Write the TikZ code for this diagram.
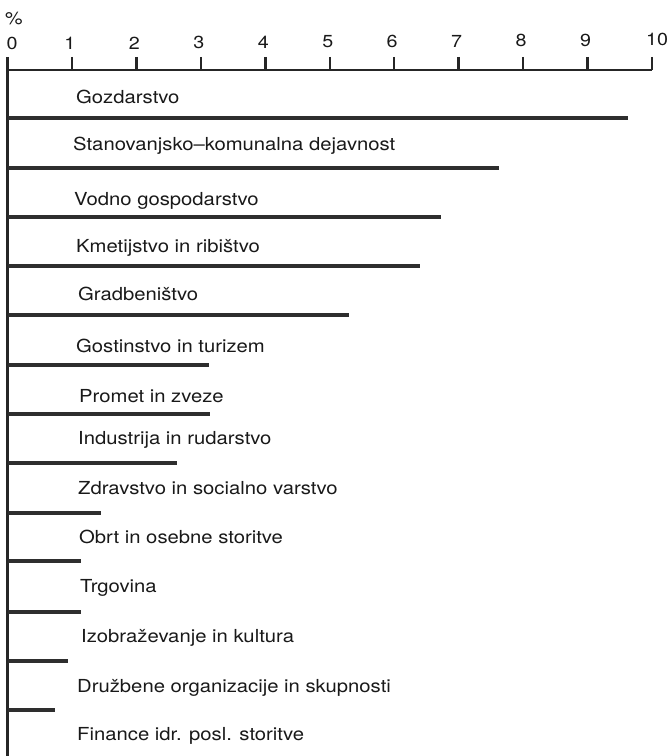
\documentclass[tikz,border=0pt]{standalone}
\usepackage{fontspec}
\setmainfont{TeX Gyre Heros}[FakeStretch=1.13]
\begin{document}
\begin{tikzpicture}[x=1bp,y=-1bp,
            axe/.style={draw=black!85, line width=2.4bp},
            barre/.style={draw=black!82, line width=3.4bp},
            lab/.style={anchor=base west, inner sep=0pt, text=black!90, font=\fontsize{18}{20}\selectfont},
            num/.style={anchor=base, inner sep=0pt, text=black!90, font=\fontsize{17.5}{20}\selectfont},
        ]
        \useasboundingbox (0,0) rectangle (672,756);
        % axes
        \draw[axe] (7.5,57) -- (7.5,756);
        \draw[axe] (7.5,70) -- (652,70);
        \foreach \i in {1,...,10}
            \draw[axe] ({7.5+64.45*\i},57) -- ({7.5+64.45*\i},70);
        \node[num] (pct) at (14,25) {\%};
        \node[num] (n0) at (12,50) {0};
        \foreach \i in {1,...,9}
            \node[num] (n\i) at ({5.5+64.45*\i},{50-0.4*\i}) {\i};
        \node[num] (n10) at (657,46) {10};
        % bars
        \foreach \v/\y in {9.63/118,7.63/168,6.73/217,6.40/266,5.30/315,3.13/365,3.14/414,
                2.63/463,1.45/513,1.14/561,1.14/612,0.94/661,0.74/710}
            \draw[barre] (7.5,\y) -- ({7.5+64.45*\v},\y);
        % labels
        \node[lab] (l1) at (76,103) {Gozdarstvo};
        \node[lab] (l2) at (73,150) {Stanovanjsko\textendash komunalna dejavnost};
        \node[lab] (l3) at (74,205) {Vodno gospodarstvo};
        \node[lab] (l4) at (76,252) {Kmetijstvo in ribištvo};
        \node[lab] (l5) at (78,300) {Gradbeništvo};
        \node[lab] (l6) at (76,352) {Gostinstvo in turizem};
        \node[lab] (l7) at (79,402) {Promet in zveze};
        \node[lab] (l8) at (78,444) {Industrija in rudarstvo};
        \node[lab] (l9) at (78,494) {Zdravstvo in socialno varstvo};
        \node[lab] (l10) at (79,543) {Obrt in osebne storitve};
        \node[lab] (l11) at (80,592) {Trgovina};
        \node[lab] (l12) at (81,642) {Izobraževanje in kultura};
        \node[lab] (l13) at (77,692) {Družbene organizacije in skupnosti};
        \node[lab] (l14) at (77,740) {Finance idr. posl. storitve};
    \end{tikzpicture}
\end{document}
